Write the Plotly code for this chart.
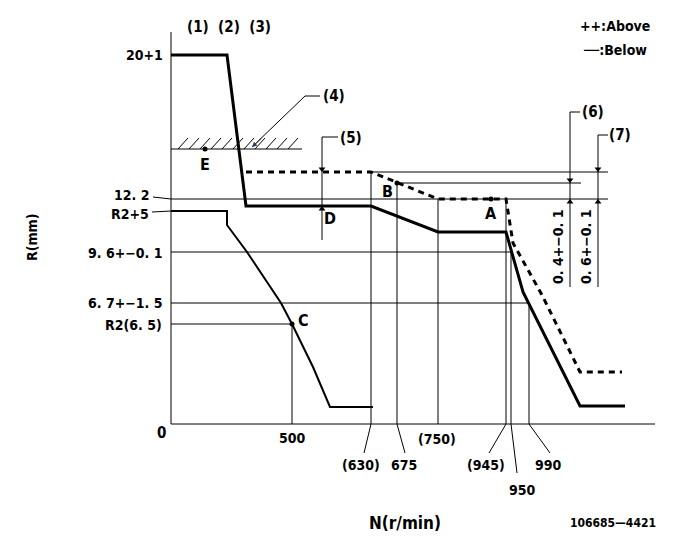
import plotly.graph_objects as go

# ---- schematic coordinates (x: position along N axis, y: rack position R) ----
# Full-load (upper) solid curve
upper_x = [0, 56, 75, 200, 267, 335, 352, 409, 454]
upper_y = [369, 369, 218, 218, 192, 192, 132, 18, 18]
# Dashed (above) curve
dash_x = [75, 200, 267, 335, 342, 371, 409, 451]
dash_y = [252, 252, 225, 225, 181, 129, 52, 52]
# Lower solid curve
lower_x = [0, 56, 56, 67, 76, 110, 121, 142, 159, 202]
lower_y = [213, 213, 199, 184, 172, 121, 100, 57, 17, 17]

# Reference levels (y) and tick labels
level_labels = ["20+1", "12. 2", "R2+5", "9. 6+\u22120. 1", "6. 7+\u22121. 5", "R2(6. 5)"]
level_y = [369, 225, 213, 172, 121, 100]
level_end_x = [None, 437, None, 341, 358, 121]

# N (r/min) marks
rpm_labels = ["500", "(630)", "675", "(750)", "(945)", "950", "990"]
rpm_x = [121, 200, 226, 267, 335, 340, 358]
rpm_top = [100, 252, 241, 225, 225, 172, 121]
rpm_label_x = [121, 190, 233, 266, 315, 351, 377]
rpm_label_y = [-14, -41, -41, -15, -41, -66, -41]

# Named points
pt_names = ["A", "B", "C", "E"]
pt_x = [320, 226, 121, 34]
pt_y = [225, 241, 100, 275]
pt_lab_x = [320, 216, 132, 34, 159]
pt_lab_y = [211, 233, 104, 260, 206]
lab_names = ["A", "B", "C", "E", "D"]

FONT = "Liberation Sans Narrow, Arial Narrow, DejaVu Sans Condensed, sans-serif"
FS = 14

fig = go.Figure()

def seg(xs, ys, width=1, dash=None):
    fig.add_trace(go.Scatter(x=xs, y=ys, mode="lines",
                             line=dict(color="black", width=width, dash=dash),
                             hoverinfo="skip", showlegend=False))

def text(x, y, s, size=FS, xa="center", ya="middle", angle=0):
    fig.add_annotation(x=x, y=y, text=s, showarrow=False, xanchor=xa, yanchor=ya,
                       textangle=angle,
                       font=dict(family=FONT, size=size, color="black", weight="bold"))

# axes
seg([0, 0, None, 0, 484], [392, 0, None, 0, 0])

# thin horizontal reference lines
hx, hy = [], []
for ly, le in zip(level_y, level_end_x):
    if le is not None:
        hx += [0, le, None]; hy += [ly, ly, None]
hx += [200, 437, None, 226, 410]; hy += [252, 252, None, 241, 241]
seg(hx, hy)

# thin vertical lines from N axis
vx, vy = [], []
for x, t in zip(rpm_x, rpm_top):
    vx += [x, x, None]; vy += [0, t, None]
seg(vx, vy)

# rpm leaders
lead = {"(630)": (193, -29), "675": (234, -29), "(945)": (318, -29),
        "950": (346, -49), "990": (379, -29)}
lx, ly_ = [], []
for lab, x in zip(rpm_labels, rpm_x):
    if lab in lead:
        ex, ey = lead[lab]
        lx += [x, ex, None]; ly_ += [0, ey, None]
seg(lx, ly_)

# level label leaders
seg([-18, 0, None, -19, 0], [227, 225, None, 212, 213])

# hatch (limit)
hxs, hys = [0, 131, None], [275, 275, None]
for k in range(11):
    b = 7 + 11 * k
    hxs += [b, b + 10, None]; hys += [275, 286, None]
seg(hxs, hys)

# curves
seg(upper_x, upper_y, width=3)
seg(lower_x, lower_y, width=2)
seg(dash_x, dash_y, width=3, dash="6px,5px")

# leader (4)
seg([81, 134, 149], [277, 328, 328])
# dimension (5)
seg([151, 151, 167], [184, 287, 287])
# dimension (6), (7)
seg([399, 399, 409, None, 427, 427, 437], [137, 312, 312, None, 137, 289, 289])

# arrowheads
ax_ = [151, 151, 399, 399, 427, 427]
ay_ = [252, 218, 241, 225, 252, 225]
sym = ["triangle-down", "triangle-up", "triangle-down",
       "triangle-up", "triangle-down", "triangle-up"]
off = [3, -3, 3, -3, 3, -3]
fig.add_trace(go.Scatter(x=ax_, y=[a + o for a, o in zip(ay_, off)],
                         mode="markers", marker=dict(symbol=sym, size=6, color="black"),
                         hoverinfo="skip", showlegend=False))
fig.add_annotation(x=81, y=277, ax=92, ay=287, axref="x", ayref="y", xref="x", yref="y",
                   showarrow=True, arrowhead=2, arrowsize=1, arrowwidth=1, text="")

# points
fig.add_trace(go.Scatter(x=pt_x, y=pt_y, mode="markers",
                         marker=dict(size=5, color="black"),
                         hoverinfo="skip", showlegend=False))
for n, x, y in zip(lab_names, pt_lab_x, pt_lab_y):
    text(x, y, n, size=16)

# level labels
lab_x = [-6, -20, -20, -6, -6, -7]
lab_y = [369, 229, 210, 171, 121, 99]
for s, x, y in zip(level_labels, lab_x, lab_y):
    text(x, y, s, xa="right")
text(-10, -9, "0", size=15)

# rpm labels
for s, x, y in zip(rpm_labels, rpm_label_x, rpm_label_y):
    text(x, y, s)

# misc labels
text(58, 397, "(1)  (2)  (3)", size=15)
text(163, 328, "(4)", size=15)
text(180, 286, "(5)", size=15)
text(422, 312, "(6)", size=15)
text(449, 289, "(7)", size=15)
text(387, 177, "0. 4+\u22120. 1", angle=-90)
text(415, 177, "0. 6+\u22120. 1", angle=-90)
text(444, 398, "++:Above", xa="center")
text(444, 374, "\u2500\u2500:Below", xa="center")
text(-139, 186, "R(mm)", angle=-90)
text(234, -99, "N(r/min)", size=17)
text(442, -99, "106685\u20144421", size=12)

# page body has an 8px margin: shrink the figure and shift ranges to compensate
fig.update_layout(width=673, height=541, margin=dict(l=0, r=0, t=0, b=0),
                  paper_bgcolor="white", plot_bgcolor="white",
                  xaxis=dict(range=[-163, 510], visible=False, fixedrange=True),
                  yaxis=dict(range=[-125, 416], visible=False, fixedrange=True),
                  showlegend=False)
fig.write_html("out.html")
